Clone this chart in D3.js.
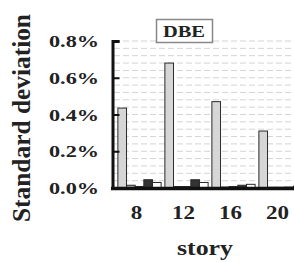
<!DOCTYPE html>
<html>
<head>
  <script src="https://d3js.org/d3.v7.min.js"></script>
  <style>
    body { margin: 0; background: #fff; }
    text { font-family: "Times New Roman", "Liberation Serif", Times, serif; font-weight: 700; fill: #222; }
  </style>
</head>
<body>
<div id="chart"></div>
<script>
  // stories (x categories)
  var stories = ["8", "12", "16", "20"];
  var seriesNames = ["s1", "s2", "s3", "s4", "s5"];
  // standard deviation in percent, one list per series
  var s1 = [0.435, 0.68, 0.47, 0.31];
  var s2 = [0.015, 0.008, 0.005, 0.004];
  var s3 = [0.008, 0.008, 0.008, 0.004];
  var s4 = [0.045, 0.045, 0.015, 0.005];
  var s5 = [0.03, 0.03, 0.02, 0.01];
  var yTicks = [0, 0.2, 0.4, 0.6, 0.8];
  var title = "DBE";

  var seriesValues = [s1, s2, s3, s4, s5];
  var colors = ["#d6d6d6", "#a8a8a8", "#777777", "#333333", "#ffffff"];

  var svg = d3.select("#chart")
              .append("svg")
              .attr("width", 294)
              .attr("height", 262);

  var x0 = d3.scaleBand()
             .domain(stories)
             .range([116, 304])
             .paddingInner(0.08)
             .paddingOuter(0.04);

  var x1 = d3.scaleBand()
             .domain(seriesNames)
             .range([0, x0.bandwidth()]);

  var yScale = d3.scaleLinear()
                 .domain([0, 0.8])
                 .range([188, 41]);

  // dashed gridlines every 0.04%
  var grid = d3.range(1, 21).map(i => i * 0.04);
  svg.append("g")
     .selectAll("line")
     .data(grid)
     .join("line")
     .attr("x1", 114)
     .attr("x2", 294)
     .attr("y1", d => yScale(d))
     .attr("y2", d => yScale(d))
     .attr("stroke", "#d4d4d4")
     .attr("stroke-width", 1)
     .attr("stroke-dasharray", "6,3");

  // bars
  var groups = svg.append("g")
     .selectAll("g")
     .data(stories)
     .join("g")
     .attr("transform", d => `translate(${x0(d)},0)`);

  groups.selectAll("rect")
        .data((d, i) => seriesNames.map((s, j) => ({ s: s, v: seriesValues[j][i], c: colors[j] })))
        .join("rect")
        .attr("x", d => x1(d.s))
        .attr("width", x1.bandwidth())
        .attr("y", d => yScale(d.v))
        .attr("height", d => yScale(0) - yScale(d.v))
        .attr("fill", d => d.c)
        .attr("stroke", "#2a2a2a")
        .attr("stroke-width", 1);

  // y axis
  var yAxis = d3.axisRight(yScale)
                .tickValues(yTicks)
                .tickSize(7)
                .tickFormat("");
  var gy = svg.append("g")
     .attr("transform", "translate(112.5,0)")
     .call(yAxis);
  gy.select(".domain").attr("stroke", "#111").attr("stroke-width", 3);
  gy.selectAll(".tick line").attr("stroke", "#111").attr("stroke-width", 2);

  svg.append("g")
     .selectAll("text")
     .data(yTicks)
     .join("text")
     .attr("x", 99)
     .attr("y", d => yScale(d) + 6)
     .attr("text-anchor", "end")
     .attr("font-size", 17)
     .attr("textLength", 50)
     .attr("lengthAdjust", "spacingAndGlyphs")
     .text(d => d.toFixed(1) + "%");

  // x axis
  var xAxis = d3.axisBottom(x0).tickSize(0).tickFormat("");
  var gx = svg.append("g")
     .attr("transform", "translate(0,188.5)")
     .call(xAxis);
  gx.select(".domain").attr("stroke", "#111").attr("stroke-width", 3.5)
    .attr("d", "M111,0H294");

  svg.append("g")
     .selectAll("text")
     .data(stories)
     .join("text")
     .attr("x", d => x0(d) + x0.bandwidth() / 2 - 3)
     .attr("y", 219)
     .attr("text-anchor", "middle")
     .attr("font-size", 19)
     .attr("textLength", d => d.length * 11.5)
     .attr("lengthAdjust", "spacingAndGlyphs")
     .text(d => d);

  svg.append("text")
     .attr("x", 205)
     .attr("y", 255)
     .attr("text-anchor", "middle")
     .attr("font-size", 22)
     .attr("textLength", 56)
     .attr("lengthAdjust", "spacingAndGlyphs")
     .text("story");

  svg.append("text")
     .attr("transform", "rotate(-90)")
     .attr("x", -118)
     .attr("y", 30)
     .attr("text-anchor", "middle")
     .attr("font-size", 25)
     .attr("textLength", 208)
     .attr("lengthAdjust", "spacingAndGlyphs")
     .text("Standard deviation");

  // title box
  svg.append("rect")
     .attr("x", 156.5)
     .attr("y", 19.5)
     .attr("width", 56)
     .attr("height", 23)
     .attr("fill", "#fff")
     .attr("stroke", "#888")
     .attr("stroke-width", 1.5);
  svg.append("text")
     .attr("x", 184)
     .attr("y", 37)
     .attr("text-anchor", "middle")
     .attr("font-size", 16)
     .attr("textLength", 42)
     .attr("lengthAdjust", "spacingAndGlyphs")
     .text(title);
</script>
</body>
</html>
